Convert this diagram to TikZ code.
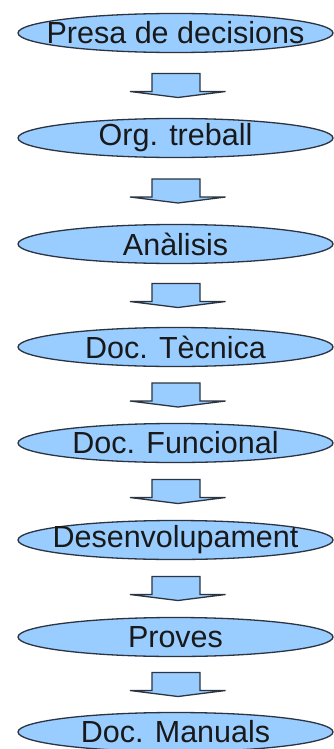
\documentclass[tikz,border=0pt]{standalone}
\usepackage{fontspec}
\setmainfont{Liberation Sans}
\usetikzlibrary{shapes.geometric,calc}
\definecolor{stepfill}{HTML}{99CCFF}
\definecolor{stepline}{HTML}{2B3440}
\newcommand{\flowarrow}[2]{%
  \path ($(#1.south)!0.5!(#2.north)$) coordinate (m#1);
  \draw[blockarrow] ([shift={(-23.5,-12)}]m#1) -- ([shift={(24.5,-12)}]m#1)
    -- ([shift={(24.5,6)}]m#1) -- ([shift={(50,6)}]m#1)
    -- ([shift={(2.5,12)}]m#1) -- ([shift={(-45.5,6)}]m#1)
    -- ([shift={(-23.5,6)}]m#1) -- cycle;}
\begin{document}
\begin{tikzpicture}[x=1pt,y=-1pt,
  stepbox/.style={ellipse, draw=stepline, fill=stepfill, line width=1.3pt,
    minimum width=315pt, minimum height=39pt, inner xsep=-90pt, inner ysep=-20pt,
    font=\fontsize{30.5}{34}\selectfont, text=black!90},
  blockarrow/.style={draw=stepline, fill=stepfill, line width=1.3pt, line join=miter}]
\useasboundingbox[fill=white] (0,0) rectangle (334,749);
\node[stepbox] (n1) at (175.5,33) {Presa de decisions};
\node[stepbox] (n2) at (175.5,138) {Org. treball};
\node[stepbox] (n3) at (175.5,244) {Anàlisis};
\node[stepbox] (n4) at (175.5,347) {Doc. Tècnica};
\node[stepbox] (n5) at (175.5,443) {Doc. Funcional};
\node[stepbox] (n6) at (175.5,540) {Desenvolupament};
\node[stepbox] (n7) at (175.5,637) {Proves};
\node[stepbox] (n8) at (175.5,732) {Doc. Manuals};
\flowarrow{n1}{n2}
\flowarrow{n2}{n3}
\flowarrow{n3}{n4}
\flowarrow{n4}{n5}
\flowarrow{n5}{n6}
\flowarrow{n6}{n7}
\flowarrow{n7}{n8}
\end{tikzpicture}
\end{document}
